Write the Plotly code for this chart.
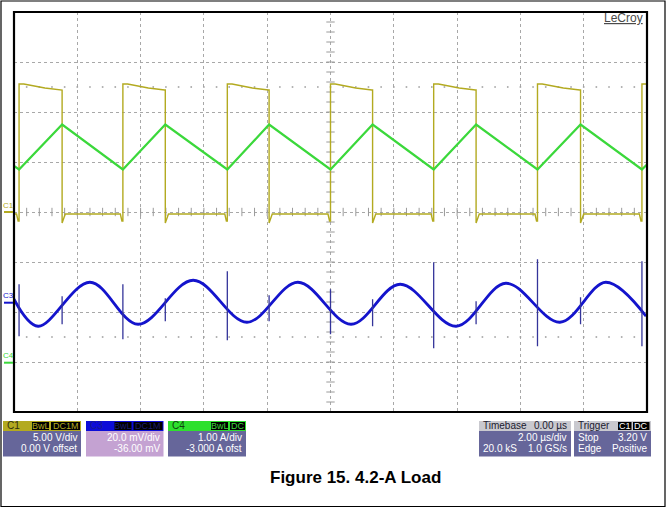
import plotly.graph_objects as go

# ---------------- data ----------------
# time axis: 2 us/div, 10 divisions, trigger at centre
rise_times_us = [-9.84, -6.56, -3.26, 0.0, 3.26, 6.54, 9.84]
fall_times_us = [-8.48, -5.22, -1.94, 1.33, 4.60, 7.90]

# C1 switch node (V), 5 V/div, 0 V offset
c1_high_start_v = 12.8
c1_high_end_v = 12.2
c1_low_v = -0.2
c1_undershoot_v = -1.1
c1_predip_v = -0.9
c1_scale = 5.0
c1_offset = 0.0

# C4 inductor current (A), 1 A/div, -3 A offset
c4_t = [-10.0, -9.84, -8.48, -6.56, -5.22, -3.26, -1.94, 0.0, 1.33, 3.26, 4.60, 6.54, 7.90, 9.84, 10.0]
c4_a = [3.92, 3.85, 4.75, 3.85, 4.75, 3.85, 4.75, 3.85, 4.75, 3.85, 4.75, 3.85, 4.75, 3.85, 3.95]
c4_scale = 1.0
c4_offset = -3.0

# C3 output ripple (mV), 20 mV/div, -36 mV offset
c3_t = [-10.0, -9.24, -7.60, -6.08, -4.34, -2.64, -1.03, 0.65, 2.20, 3.97, 5.54, 7.25, 8.70, 9.97]
c3_mv = [1.1, -9.7, 7.9, -8.9, 8.7, -8.1, 7.9, -8.9, 7.1, -9.7, 7.5, -8.1, 7.9, -5.7]
c3_rise_spike_top = [7.1, 7.1, 12.3, 5.1, 15.9, 17.1, 16.3]
c3_rise_spike_bot = [-13.7, -14.9, -15.3, -12.9, -18.5, -17.7, -17.7]
c3_fall_spike_top = [2.3, 1.5, 2.7, 1.1, 0.3, 1.9]
c3_fall_spike_bot = [-8.9, -7.7, -7.7, -9.7, -8.9, -8.9]
c3_scale = 20.0
c3_offset_div = -1.8

trigger_level_v = 3.20

# panel texts
panel_c1 = ["C1", "BwL", "DC1M", "5.00 V/div", "0.00 V offset"]
panel_c3 = ["C3", "BwL", "DC1M", "20.0 mV/div", "-36.00 mV"]
panel_c4 = ["C4", "BwL", "DC", "1.00 A/div", "-3.000 A ofst"]
panel_tb = ["Timebase", "0.00 µs", "2.00 µs/div", "20.0 kS", "1.0 GS/s"]
panel_tr = ["Trigger", "C1", "DC", "Stop", "3.20 V", "Edge", "Positive"]
caption = "Figure 15. 4.2-A Load"

# ---------------- styling ----------------
YEL = "#b3aa20"
GRN = "#3bd83b"
BLU = "#1414cc"
SPK = "#34349a"
BODY = "#66669a"
GRIDC = "#a8a8a8"
TICKC = "#9a9a9a"

W, H = 666, 508
L, R, T, B = 14, 647, 12, 412


def PX(x):
    return (x - L) / (R - L)


def PY(y):
    return (B - y) / (B - T)


# build C1 waveform
c1x, c1y = [-10.0], [c1_low_v]
for i, r in enumerate(rise_times_us):
    c1x += [r - 0.08, r - 0.03, r, r]
    c1y += [c1_low_v, c1_predip_v, c1_predip_v, c1_high_start_v]
    if i < len(fall_times_us):
        f = fall_times_us[i]
        c1x += [r + 0.15, r + (f - r) * 0.6, f - 0.02, f, f, f + 0.1]
        c1y += [c1_high_start_v, (c1_high_start_v + c1_high_end_v) / 2 - 0.1, c1_high_end_v, c1_high_end_v,
                c1_undershoot_v, c1_low_v]
    else:
        c1x += [10.0]
        c1y += [c1_high_start_v]
c1y_div = [(v + c1_offset) / c1_scale for v in c1y]

c4_div = [a / c4_scale + c4_offset for a in c4_a]
c3_div = [m / c3_scale + c3_offset_div for m in c3_mv]

spx, spy = [], []
for t, a, b in zip(rise_times_us, c3_rise_spike_top, c3_rise_spike_bot):
    spx += [t, t, None]
    spy += [a / c3_scale + c3_offset_div, b / c3_scale + c3_offset_div, None]
for t, a, b in zip(fall_times_us, c3_fall_spike_top, c3_fall_spike_bot):
    spx += [t, t, None]
    spy += [a / c3_scale + c3_offset_div, b / c3_scale + c3_offset_div, None]

fig = go.Figure()

# graticule ticks on centre axes and half-division dot rows
tick_x = [-10 + 0.4 * i for i in range(51)]
tick_y = [-4 + 0.2 * i for i in range(41)]
fig.add_trace(go.Scatter(x=tick_x, y=[0] * len(tick_x), mode="markers",
                         marker=dict(symbol="line-ns-open", size=6, color=TICKC, line=dict(color=TICKC, width=1)),
                         hoverinfo="skip", showlegend=False))
fig.add_trace(go.Scatter(x=[0] * len(tick_y), y=tick_y, mode="markers",
                         marker=dict(symbol="line-ew-open", size=6, color=TICKC, line=dict(color=TICKC, width=1)),
                         hoverinfo="skip", showlegend=False))
for yy in (2.5, -2.5):
    fig.add_trace(go.Scatter(x=tick_x, y=[yy] * len(tick_x), mode="markers",
                             marker=dict(symbol="square", size=1.6, color="#a0a0a0", line=dict(width=0)),
                             hoverinfo="skip", showlegend=False))

# traces
fig.add_trace(go.Scatter(x=c3_t, y=c3_div, mode="lines",
                         line=dict(color=BLU, width=2.8, shape="spline", smoothing=1.0), showlegend=False))
fig.add_trace(go.Scatter(x=spx, y=spy, mode="lines", line=dict(color=SPK, width=1.3), showlegend=False))
fig.add_trace(go.Scatter(x=c1x, y=c1y_div, mode="lines", line=dict(color=YEL, width=1.4), showlegend=False))
fig.add_trace(go.Scatter(x=c4_t, y=c4_div, mode="lines", line=dict(color=GRN, width=2.2), showlegend=False))

# trigger markers
fig.add_trace(go.Scatter(x=[10.3], y=[trigger_level_v / c1_scale], mode="markers", cliponaxis=False,
                         marker=dict(symbol="triangle-left", size=7, color=YEL), showlegend=False))
fig.add_trace(go.Scatter(x=[0], y=[-4.08], mode="markers", cliponaxis=False,
                         marker=dict(symbol="triangle-up", size=7, color=YEL), showlegend=False))

fig.update_xaxes(range=[-10, 10], tick0=0, dtick=2, showgrid=True, gridcolor=GRIDC, griddash="dot", gridwidth=1,
                 zeroline=False, showticklabels=False, ticks="", fixedrange=True)
fig.update_yaxes(range=[-4, 4], tick0=0, dtick=1, showgrid=True, gridcolor=GRIDC, griddash="dot", gridwidth=1,
                 zeroline=False, showticklabels=False, ticks="", fixedrange=True)

shapes = []
annotations = []
# plot border
shapes.append(dict(type="rect", xref="paper", yref="paper", x0=0, x1=1, y0=0, y1=1,
                   line=dict(color="black", width=2.2)))
# outer image border
shapes.append(dict(type="rect", xref="paper", yref="paper", x0=PX(1), x1=PX(665), y0=PY(506.5), y1=PY(1),
                   line=dict(color="black", width=1.2)))

# channel markers on the left
for lbl, ypix, col in (("C1", 212, YEL), ("C3", 302.7, BLU), ("C4", 362.7, GRN)):
    shapes.append(dict(type="line", xref="paper", yref="paper", x0=PX(4), x1=PX(13), y0=PY(ypix), y1=PY(ypix),
                       line=dict(color=col, width=2)))
    annotations.append(dict(text=lbl, xref="paper", yref="paper", x=PX(1.5), y=PY(ypix - 7), xanchor="left",
                            yanchor="middle", showarrow=False, borderpad=0,
                            font=dict(family="Liberation Sans Narrow, Liberation Sans", size=8, color=col)))

annotations.append(dict(text="<u>LeCroy</u>", xref="paper", yref="paper", x=PX(645), y=PY(18), xanchor="right",
                        yanchor="middle", showarrow=False,
                        font=dict(family="Liberation Sans", size=12, color="#4a4a4a")))


def txt(s, x, y, anchor, color="white", size=10):
    annotations.append(dict(text=s, xref="paper", yref="paper", x=PX(x), y=PY(y), xanchor=anchor, yanchor="middle",
                            showarrow=False, font=dict(family="Liberation Sans", size=size, color=color)))


def rect(x0, x1, y0, y1, fill, line=None):
    shapes.append(dict(type="rect", xref="paper", yref="paper", x0=PX(x0), x1=PX(x1), y0=PY(y1), y1=PY(y0),
                       fillcolor=fill, line=dict(width=1 if line else 0, color=line or fill), layer="above"))


def chan_panel(x0, x1, head_col, body_col, vals, box_txt_col, name_col):
    rect(x0, x1, 421, 431, head_col)
    rect(x0, x1, 431, 456.5, body_col)
    name, b1, b2, l1, l2 = vals
    txt(name, x0 + 2, 426, "left", name_col, 10)
    wb2 = 7 * len(b2) + 1
    rect(x1 - wb2 - 1, x1 - 1, 422, 430, "black")
    txt(b2, x1 - 1 - wb2 / 2, 426, "center", box_txt_col, 9)
    bx1 = x1 - wb2 - 3
    rect(bx1 - 17, bx1, 422, 430, "black")
    txt(b1, bx1 - 8.5, 426, "center", box_txt_col, 9)
    txt(l1, x1 - 2, 437.5, "right", "white", 10)
    txt(l2, x1 - 2, 448.5, "right", "white", 10)


chan_panel(3, 81, YEL, BODY, panel_c1, YEL, "#303010")
chan_panel(86, 163.5, "#0c0cd8", "#c4a2d2", panel_c3, "#1a1a70", "#1a1a90")
chan_panel(168, 246, "#2ee02e", BODY, panel_c4, GRN, "#104010")

# timebase panel
rect(479, 571, 421, 431, "#c9c9cf")
rect(479, 571, 431, 456.5, BODY)
txt(panel_tb[0], 481, 426, "left", "#202030", 10)
txt(panel_tb[1], 569, 426, "right", "#202030", 10)
txt(panel_tb[2], 569, 437.5, "right")
txt(panel_tb[3], 481, 448.5, "left")
txt(panel_tb[4], 569, 448.5, "right")

# trigger panel
rect(574, 651, 421, 431, "#c9c9cf")
rect(574, 651, 431, 456.5, BODY)
txt(panel_tr[0], 576, 426, "left", "#202030", 10)
rect(633, 649.5, 422, 430, "black")
txt(panel_tr[2], 641.2, 426, "center", "white", 9)
rect(618, 631.5, 422, 430, "black")
txt(panel_tr[1], 624.7, 426, "center", "white", 9)
txt(panel_tr[3], 576, 437.5, "left")
txt(panel_tr[4], 649, 437.5, "right")
txt(panel_tr[5], 576, 448.5, "left")
txt(panel_tr[6], 649, 448.5, "right")

# caption
annotations.append(dict(text="<b>" + caption + "</b>", xref="paper", yref="paper", x=PX(355), y=PY(477),
                        xanchor="center", yanchor="middle", showarrow=False,
                        font=dict(family="Liberation Sans", size=17, color="black")))

fig.update_layout(width=W, height=H, margin=dict(l=L, r=W - R, t=T, b=H - B),
                  paper_bgcolor="white", plot_bgcolor="white", shapes=shapes, annotations=annotations,
                  showlegend=False, hovermode=False)

fig.write_html("out.html", config={"displayModeBar": False, "staticPlot": True},
               post_script="document.body.style.margin='0';document.body.style.overflow='hidden';")
